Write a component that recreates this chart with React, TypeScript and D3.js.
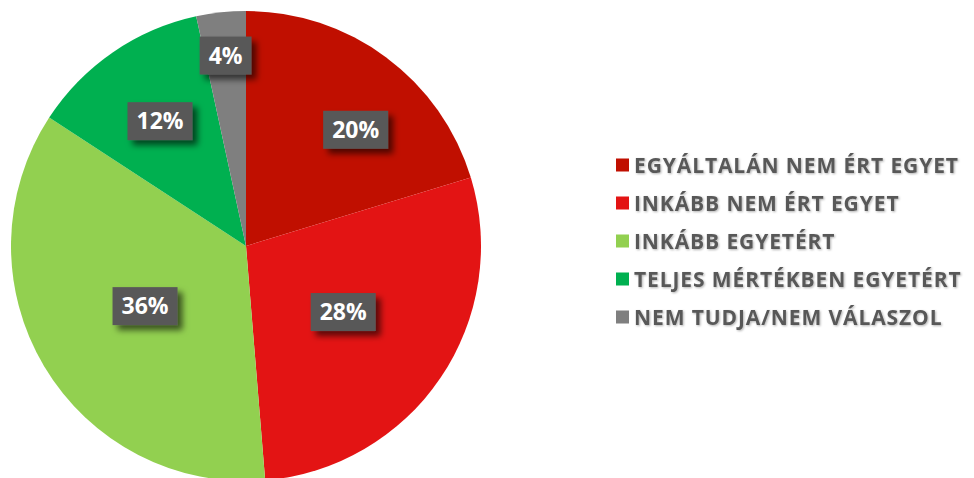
import React, { useEffect, useRef } from "react";
import * as d3 from "d3";

// answer categories, clockwise from 12 o'clock
const categories = [
  "EGYÁLTALÁN NEM ÉRT EGYET",
  "INKÁBB NEM ÉRT EGYET",
  "INKÁBB EGYETÉRT",
  "TELJES MÉRTÉKBEN EGYETÉRT",
  "NEM TUDJA/NEM VÁLASZOL",
];
const shares = [20.3, 28.4, 35.5, 12.4, 3.4];
const shareLabels = ["20%", "28%", "36%", "12%", "4%"];
const colors = ["#C00F00", "#E31414", "#92D050", "#00B050", "#7F7F7F"];

// label placement (fraction of radius, extra angle in degrees)
const labelRadius = [0.68, 0.5, 0.5, 0.645, 0.815];
const labelAngleShift = [6.8, 0, 0, 0, 0];

const W = 974;
const H = 478;
const FONT = "'Open Sans', 'DejaVu Sans', sans-serif";

const App = () => {
  const ref = useRef<SVGSVGElement>(null);

  useEffect(() => {
    const svg = d3.select(ref.current);
    svg.selectAll("*").remove();

    const cx = 246;
    const cy = 246;
    const r = 235;

    const defs = svg.append("defs");
    const boxShadow = defs
      .append("filter")
      .attr("id", "boxShadow")
      .attr("x", "-30%")
      .attr("y", "-30%")
      .attr("width", "160%")
      .attr("height", "180%");
    boxShadow
      .append("feDropShadow")
      .attr("dx", 5)
      .attr("dy", 5)
      .attr("stdDeviation", 3)
      .attr("flood-color", "#000")
      .attr("flood-opacity", 0.6);

    const textShadow = defs.append("filter").attr("id", "textShadow");
    textShadow
      .append("feDropShadow")
      .attr("dx", 1)
      .attr("dy", 1)
      .attr("stdDeviation", 0.8)
      .attr("flood-color", "#000")
      .attr("flood-opacity", 0.3);

    const pie = d3
      .pie<number>()
      .sort(null)
      .value((d) => d);
    const arcs = pie(shares);
    const arc = d3.arc<d3.PieArcDatum<number>>().innerRadius(0).outerRadius(r);

    const g = svg.append("g").attr("transform", `translate(${cx},${cy})`);

    g.selectAll("path.slice")
      .data(arcs)
      .join("path")
      .attr("class", "slice")
      .attr("d", arc)
      .attr("fill", (d, i) => colors[i]);

    // data labels
    const lab = g
      .selectAll("g.lab")
      .data(arcs)
      .join("g")
      .attr("class", "lab")
      .attr("transform", (d, i) => {
        const a = (d.startAngle + d.endAngle) / 2 + (labelAngleShift[i] * Math.PI) / 180;
        const rr = r * labelRadius[i];
        return `translate(${rr * Math.sin(a)},${-rr * Math.cos(a)})`;
      });

    const rects = lab.append("rect").attr("fill", "#595959").attr("filter", "url(#boxShadow)");
    const txt = lab
      .append("text")
      .attr("text-anchor", "middle")
      .attr("dy", "0.35em")
      .attr("fill", "#fff")
      .attr("font-family", FONT)
      .attr("font-weight", 700)
      .attr("font-size", 23)
      .text((d, i) => shareLabels[i]);

    txt.each(function (d, i) {
      const w = (this as SVGTextElement).getComputedTextLength();
      d3.select(rects.nodes()[i])
        .attr("x", -w / 2 - 9)
        .attr("y", -19)
        .attr("width", w + 18)
        .attr("height", 38);
    });

    // legend
    const y = d3
      .scaleBand()
      .domain(categories)
      .range([146, 336]);

    const leg = svg
      .append("g")
      .selectAll("g")
      .data(categories)
      .join("g")
      .attr("transform", (d) => `translate(616,${y(d)! + y.bandwidth() / 2})`);

    leg
      .append("rect")
      .attr("x", 0)
      .attr("y", -6.5)
      .attr("width", 13)
      .attr("height", 13)
      .attr("fill", (d, i) => colors[i]);

    leg
      .append("text")
      .attr("x", 18)
      .attr("dy", "0.36em")
      .attr("fill", "#595959")
      .attr("font-family", FONT)
      .attr("font-weight", 700)
      .attr("font-size", 21)
      .attr("letter-spacing", 0.9)
      .attr("filter", "url(#textShadow)")
      .text((d) => d);
  }, []);

  return (
    <svg
      ref={ref}
      width={W}
      height={H}
      style={{ position: "absolute", left: 0, top: 0, display: "block", background: "#fff" }}
    />
  );
};

export default App;
